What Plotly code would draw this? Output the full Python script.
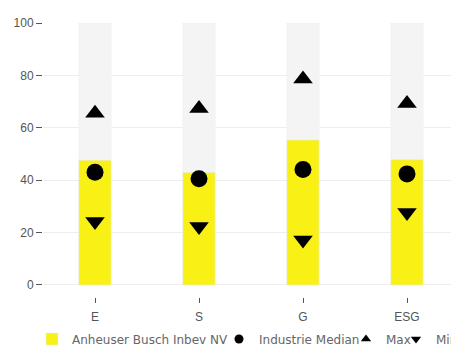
import plotly.graph_objects as go

categories = ["E", "S", "G", "ESG"]
company = [47.6, 42.9, 55.3, 47.8]
median = [43.0, 40.5, 44.1, 42.4]
max_vals = [65.5, 67.4, 78.6, 69.3]
min_vals = [24.2, 22.3, 17.2, 27.7]
background = [100, 100, 100, 100]

TICK_FONT = "'Liberation Sans', Arial, sans-serif"
LEGEND_FONT = "'DejaVu Sans', sans-serif"

W = 700
H = 347
L = 43
PLOT_W = 640
STEP = 104.0  # pixels per category

fig = go.Figure()
fig.add_trace(go.Bar(x=categories, y=background, marker_color="#f4f4f4",
                     width=0.31, showlegend=False, hoverinfo="skip"))
fig.add_trace(go.Bar(x=categories, y=company, marker_color="#f9f016",
                     width=0.31, name="Anheuser Busch Inbev NV", legend="legend"))
series = [(median, "Industrie Median", "circle", "legend2"),
          (max_vals, "Max", "triangle-up", "legend3"),
          (min_vals, "Min", "triangle-down", "legend4")]
for vals, name, sym, lg in series:
    fig.add_trace(go.Scatter(x=categories, y=vals, mode="markers", name=name,
                             showlegend=False, legendgroup=name,
                             marker=dict(symbol=sym, size=17, color="black")))
    # legend entry with small symbol
    fig.add_trace(go.Scatter(x=[None], y=[None], mode="markers", name=name,
                             legendgroup=name, legend=lg,
                             marker=dict(symbol=sym, size=9, color="black")))

def legend_at(px):
    return dict(orientation="h", xref="container", x=px / W, xanchor="left",
                yref="container", y=8 / H, yanchor="middle",
                font=dict(family=LEGEND_FONT, size=12, color="#666"),
                itemwidth=30, tracegroupgap=0, bgcolor="rgba(0,0,0,0)")

fig.update_layout(
    width=W, height=H,
    margin=dict(l=L, r=W - L - PLOT_W, t=23, b=50, autoexpand=False),
    barmode="overlay",
    plot_bgcolor="white", paper_bgcolor="white",
    font=dict(family=TICK_FONT, size=12, color="#555"),
    showlegend=True,
    legend=legend_at(32),
    legend2=legend_at(219),
    legend3=legend_at(346),
    legend4=legend_at(396),
    xaxis=dict(range=[-0.5, -0.5 + PLOT_W / STEP], showgrid=False, ticks="outside", ticklen=5,
               tickcolor="#555", showline=False, zeroline=False, ticklabelstandoff=4,
               tickfont=dict(size=12, color="#555")),
    yaxis=dict(range=[-4.6, 100], tickvals=[0, 20, 40, 60, 80, 100],
               showgrid=True, gridcolor="#eeeeee", zeroline=False,
               ticks="outside", ticklen=6, tickcolor="#555", showline=False,
               tickfont=dict(size=12, color="#555")),
)

fig.write_html("out.html", post_script="document.body.style.overflow='hidden';document.documentElement.style.overflow='hidden';")
